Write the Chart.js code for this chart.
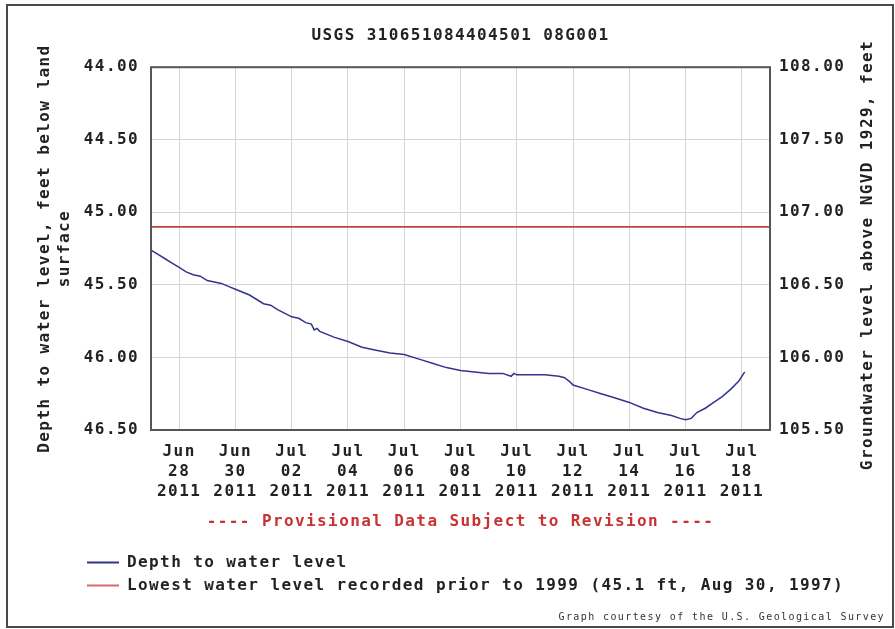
<!DOCTYPE html>
<html>
<head>
<meta charset="utf-8">
<script src="https://cdn.jsdelivr.net/npm/chart.js@4/dist/chart.umd.min.js"></script>
<style>
  html, body { margin: 0; padding: 0; background: #ffffff; }
  #wrap { position: absolute; left: 0; top: 0; width: 895px; height: 629px; }
</style>
</head>
<body>
<div id="wrap"><canvas id="c" width="895" height="629"></canvas></div>
<script>
// ---- data (x = days after Jun 27 2011 00:00) ----
const chartTitle = "USGS 310651084404501 08G001";
const leftAxisTitle = ["Depth to water level, feet below land", "surface"];
const rightAxisTitle = "Groundwater level above NGVD 1929, feet";
const provisionalNote = "---- Provisional Data Subject to Revision ----";
const courtesyNote = "Graph courtesy of the U.S. Geological Survey";
const seriesNames = ["Depth to water level", "Lowest water level recorded prior to 1999 (45.1 ft, Aug 30, 1997)"];

const depthDays = [0.0, 0.25, 0.5, 0.75, 1.0, 1.25, 1.5, 1.75, 2.0, 2.25, 2.5, 2.75, 3.0, 3.5, 4.0, 4.25, 4.5, 5.0, 5.25, 5.5, 5.7, 5.8, 5.9, 6.0, 6.5, 7.0, 7.5, 8.0, 8.5, 9.0, 9.5, 10.0, 10.5, 11.0, 11.5, 12.0, 12.5, 12.8, 12.9, 13.0, 13.5, 14.0, 14.5, 14.7, 14.9, 15.0, 15.5, 16.0, 16.5, 17.0, 17.5, 18.0, 18.5, 18.8, 19.0, 19.2, 19.4, 19.7, 20.0, 20.3, 20.6, 20.9, 21.1];
const depthValues = [45.26, 45.29, 45.32, 45.35, 45.38, 45.41, 45.43, 45.44, 45.47, 45.48, 45.49, 45.51, 45.53, 45.57, 45.63, 45.64, 45.67, 45.72, 45.73, 45.76, 45.77, 45.81, 45.80, 45.82, 45.86, 45.89, 45.93, 45.95, 45.97, 45.98, 46.01, 46.04, 46.07, 46.09, 46.10, 46.11, 46.11, 46.13, 46.11, 46.12, 46.12, 46.12, 46.13, 46.14, 46.17, 46.19, 46.22, 46.25, 46.28, 46.31, 46.35, 46.38, 46.40, 46.42, 46.43, 46.42, 46.38, 46.35, 46.31, 46.27, 46.22, 46.16, 46.10];

const recordLowDepth = 45.1;
const recordLowDays = [0, 22];

const xRange = [0, 22];
const xTickPositions = [1, 3, 5, 7, 9, 11, 13, 15, 17, 19, 21];
const xTickLabels = [
  ["Jun", "28", "2011"], ["Jun", "30", "2011"], ["Jul", "02", "2011"], ["Jul", "04", "2011"],
  ["Jul", "06", "2011"], ["Jul", "08", "2011"], ["Jul", "10", "2011"], ["Jul", "12", "2011"],
  ["Jul", "14", "2011"], ["Jul", "16", "2011"], ["Jul", "18", "2011"]
];
const leftRange = [44.0, 46.5];
const rightRange = [105.5, 108.0];
const yStep = 0.5;

// ---- styling ----
const MONO = "'DejaVu Sans Mono', 'Liberation Mono', monospace";
const SPACING = '1.4px';

const spacingPlugin = {
  id: 'spacing',
  beforeInit(c) { c.ctx.letterSpacing = SPACING; },
  beforeUpdate(c) { c.ctx.letterSpacing = SPACING; },
  beforeLayout(c) { c.ctx.letterSpacing = SPACING; },
  beforeDraw(c) {
    const ctx = c.ctx;
    ctx.letterSpacing = SPACING;
    ctx.save();
    ctx.fillStyle = '#ffffff';
    ctx.fillRect(0, 0, c.width, c.height);
    ctx.restore();
  },
  afterLayout(c) {
    // indent legend rows like the reference
    if (c.legend) { c.legend.left += 80; }
  },
  afterDraw(c) {
    const ctx = c.ctx;
    const a = c.chartArea;
    ctx.save();
    // plot frame
    ctx.strokeStyle = '#555555';
    ctx.lineWidth = 2;
    ctx.strokeRect(a.left, a.top, a.right - a.left, a.bottom - a.top);
    // outer frame
    ctx.strokeStyle = '#4a4a4a';
    ctx.lineWidth = 2;
    ctx.strokeRect(7, 5, 886, 622);
    // right axis title (reads bottom to top)
    ctx.letterSpacing = SPACING;
    ctx.fillStyle = '#222222';
    ctx.font = "bold 16px " + MONO;
    ctx.textAlign = 'center';
    ctx.textBaseline = 'middle';
    ctx.translate(868, 255);
    ctx.rotate(-Math.PI / 2);
    ctx.fillText(rightAxisTitle, 0, 0);
    ctx.restore();
  }
};

const tickFont = { family: MONO, size: 16, weight: 'bold', lineHeight: '20px' };

new Chart(document.getElementById('c'), {
  type: 'line',
  data: {
    datasets: [
      {
        label: seriesNames[0],
        data: depthDays.map((d, i) => ({ x: d, y: depthValues[i] })),
        borderColor: '#34348e',
        backgroundColor: '#34348e',
        borderWidth: 1.5,
        pointRadius: 0,
        tension: 0,
        yAxisID: 'y'
      },
      {
        label: seriesNames[1],
        data: recordLowDays.map(d => ({ x: d, y: recordLowDepth })),
        borderColor: '#c04040',
        backgroundColor: '#d86a6a',
        borderWidth: 1.6,
        pointRadius: 0,
        yAxisID: 'y'
      }
    ]
  },
  options: {
    responsive: false,
    animation: false,
    devicePixelRatio: 1,
    layout: { padding: { left: 0, right: 10, top: 0, bottom: 0 } },
    scales: {
      x: {
        type: 'linear',
        position: 'bottom',
        min: xRange[0],
        max: xRange[1],
        afterBuildTicks: (s) => { s.ticks = xTickPositions.map(v => ({ value: v })); },
        afterFit: (s) => { s.height = 117.5; },
        ticks: {
          autoSkip: false,
          maxRotation: 0,
          padding: 12,
          color: '#222222',
          font: tickFont,
          callback: (v) => {
            const i = xTickPositions.indexOf(v);
            return i >= 0 ? xTickLabels[i] : '';
          }
        },
        grid: { color: '#d6d6d6', lineWidth: 1, drawTicks: false },
        border: { display: false },
        title: {
          display: true,
          text: provisionalNote,
          color: '#c83232',
          font: { family: MONO, size: 16, weight: 'bold', lineHeight: '20px' },
          padding: { top: 10, bottom: 15.5 }
        }
      },
      y: {
        type: 'linear',
        position: 'left',
        reverse: true,
        min: leftRange[0],
        max: leftRange[1],
        afterFit: (s) => { s.width = 151; },
        ticks: {
          stepSize: yStep,
          padding: 12,
          color: '#222222',
          font: tickFont,
          callback: (v) => Number(v).toFixed(2)
        },
        grid: { color: '#d6d6d6', lineWidth: 1, drawTicks: false },
        border: { display: false },
        title: {
          display: true,
          text: leftAxisTitle,
          color: '#222222',
          font: { family: MONO, size: 16, weight: 'bold', lineHeight: '20px' },
          padding: { top: 35, bottom: 0 }
        }
      },
      y2: {
        type: 'linear',
        position: 'right',
        min: rightRange[0],
        max: rightRange[1],
        afterFit: (s) => { s.width = 115; },
        ticks: {
          stepSize: yStep,
          padding: 9,
          color: '#222222',
          font: tickFont,
          callback: (v) => Number(v).toFixed(2)
        },
        grid: { display: false, drawTicks: false },
        border: { display: false }
      }
    },
    plugins: {
      title: {
        display: true,
        text: chartTitle,
        fullSize: false,
        color: '#222222',
        font: { family: MONO, size: 16, weight: 'bold', lineHeight: 1.2 },
        padding: { top: 26, bottom: 22 }
      },
      subtitle: {
        display: true,
        text: courtesyNote,
        position: 'bottom',
        align: 'end',
        color: '#333333',
        font: { family: MONO, size: 10, weight: 'normal', lineHeight: 1.2 },
        padding: { top: 8, bottom: 5.5 }
      },
      legend: {
        display: true,
        position: 'bottom',
        align: 'start',
        labels: {
          boxWidth: 32,
          boxHeight: 2,
          padding: 7,
          color: '#222222',
          font: { family: MONO, size: 16, weight: 'bold' },
          generateLabels: (chart) => {
            const items = Chart.defaults.plugins.legend.labels.generateLabels(chart);
            return items.map(it => Object.assign(it, { lineWidth: 0 }));
          }
        }
      },
      tooltip: { enabled: false }
    }
  },
  plugins: [spacingPlugin]
});
</script>
</body>
</html>
